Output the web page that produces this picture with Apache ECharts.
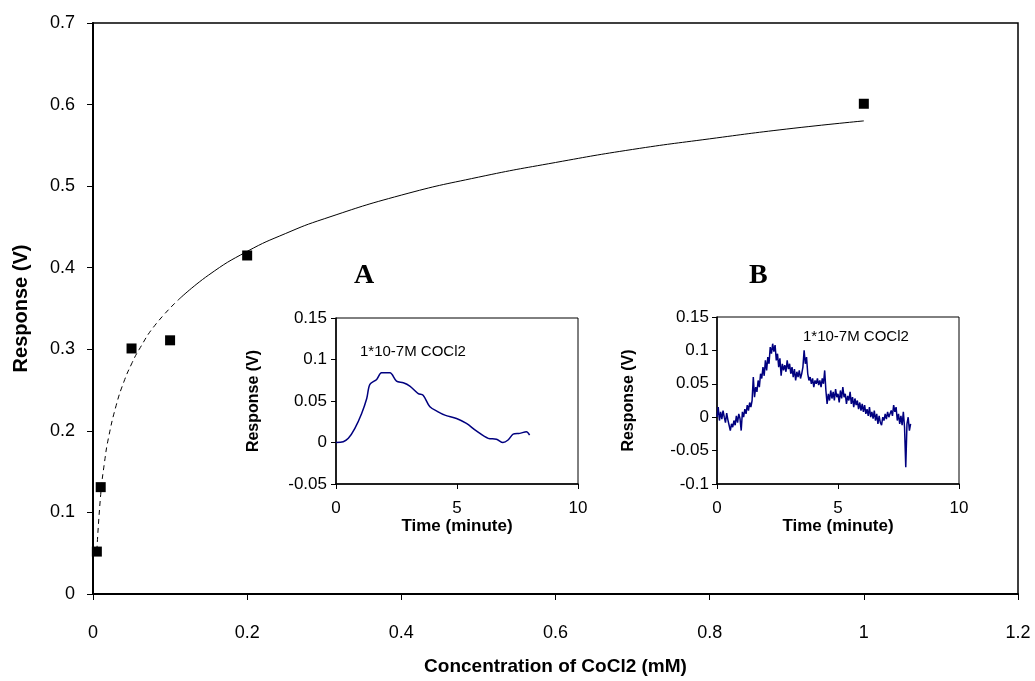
<!DOCTYPE html>
<html>
<head>
<meta charset="utf-8">
<script src="https://cdn.jsdelivr.net/npm/echarts@6/dist/echarts.min.js"></script>
<style>
  html, body { margin: 0; padding: 0; background: #fff; }
  #chart { width: 1035px; height: 681px; }
</style>
</head>
<body>
<div id="chart"></div>
<script>
// measured points, main plot
var concX = [0.005, 0.01, 0.05, 0.1, 0.2, 1.0]
var respY = [0.052, 0.131, 0.301, 0.311, 0.415, 0.601]

// fitted curve (dashed part, then solid part)
var fitDashX = [0.005, 0.01, 0.015, 0.02, 0.03, 0.04, 0.05, 0.06, 0.08, 0.11]
var fitDashY = [0.053, 0.122, 0.162, 0.191, 0.231, 0.260, 0.282, 0.300, 0.329, 0.360]
var fitSolidX = [0.11, 0.15, 0.2, 0.25, 0.3, 0.4, 0.5, 0.6, 0.7, 0.8, 0.9, 1.0]
var fitSolidY = [0.360, 0.391, 0.420, 0.442, 0.460, 0.489, 0.511, 0.529, 0.545, 0.558, 0.570, 0.580]

// inset A trace
var aTime = [0, 0.3, 0.51, 0.78, 1.06, 1.27, 1.4, 1.68, 1.88, 2.23, 2.5, 2.78, 3.05, 3.4, 3.6, 3.88, 4.22, 4.5, 4.98, 5.39, 5.8, 6.29, 6.63, 6.9, 7.11, 7.32, 7.59, 7.87, 8.0]
var aResp = [0, 0.001, 0.005, 0.017, 0.035, 0.053, 0.07, 0.076, 0.084, 0.084, 0.074, 0.072, 0.068, 0.059, 0.057, 0.043, 0.037, 0.033, 0.029, 0.023, 0.014, 0.005, 0.004, 0.0, 0.003, 0.01, 0.011, 0.013, 0.009]

// inset B trace, sampled every 0.05 min
var bDt = 0.05
var bResp = [
  0.000, 0.015, -0.005, 0.008, -0.003, 0.010, 0.000, -0.008, 0.006, -0.004,
  -0.012, -0.020, -0.010, -0.015, -0.005, -0.012, 0.002, -0.008, 0.005, -0.002,
  -0.020, 0.008, 0.000, 0.012, 0.005, 0.018, 0.010, 0.022, 0.015, 0.025,
  0.060, 0.030, 0.045, 0.038, 0.055, 0.045, 0.065, 0.058, 0.075, 0.062,
  0.085, 0.070, 0.090, 0.080, 0.105, 0.095, 0.110, 0.098, 0.108, 0.085,
  0.095, 0.075, 0.088, 0.062, 0.080, 0.070, 0.078, 0.068, 0.085, 0.072,
  0.080, 0.065, 0.075, 0.060, 0.072, 0.055, 0.068, 0.060, 0.070, 0.058,
  0.065, 0.075, 0.100, 0.080, 0.090, 0.065, 0.055, 0.060, 0.050, 0.058,
  0.045, 0.055, 0.050, 0.058, 0.048, 0.055, 0.045, 0.058, 0.050, 0.070,
  0.040, 0.020, 0.035, 0.025, 0.040, 0.028, 0.038, 0.025, 0.042, 0.030,
  0.035, 0.022, 0.040, 0.028, 0.045, 0.030, 0.035, 0.020, 0.032, 0.025,
  0.038, 0.020, 0.030, 0.015, 0.028, 0.018, 0.025, 0.012, 0.022, 0.010,
  0.020, 0.008, 0.018, 0.005, 0.012, 0.002, 0.015, 0.000, 0.008, -0.002,
  0.010, -0.005, 0.005, -0.010, 0.002, -0.008, -0.012, 0.000, -0.005, 0.005,
  -0.003, 0.008, 0.000, 0.005, 0.010, 0.002, 0.018, 0.008, 0.015, -0.005,
  0.005, -0.010, 0.002, -0.012, 0.008, -0.015, -0.075, -0.010, 0.000, -0.020,
  -0.010
]

var annText = '1*10-7M COCl2'

function pairs(xs, ys) {
  return xs.map(function (x, i) { return [x, ys[i]] })
}

var chart = echarts.init(document.getElementById('chart'))

var FONT = '"Liberation Sans", Arial, sans-serif'

function valAxis(idx, min, max, interval, labelSize, margin, name, nameSize, gap, lineW, tickLen) {
  return {
    type: 'value',
    gridIndex: idx,
    min: min,
    max: max,
    interval: interval,
    splitLine: { show: false },
    axisLine: { show: true, onZero: false, lineStyle: { color: '#000', width: lineW } },
    axisTick: { show: true, inside: false, length: tickLen, lineStyle: { color: '#000', width: 1 } },
    axisLabel: { color: '#000', fontSize: labelSize, fontFamily: FONT, margin: margin },
    name: name,
    nameLocation: 'middle',
    nameGap: gap,
    nameTextStyle: { color: '#000', fontSize: nameSize, fontWeight: 'bold', fontFamily: FONT }
  }
}

chart.setOption({
  backgroundColor: '#fff',
  animation: false,
  grid: [
    { left: 93, top: 23, width: 925, height: 574, show: true, borderColor: '#000', borderWidth: 1.5, backgroundColor: 'transparent' },
    { left: 336, top: 318, width: 242, height: 166, show: true, borderColor: '#000', borderWidth: 1, backgroundColor: '#fff' },
    { left: 717, top: 317, width: 242, height: 167, show: true, borderColor: '#000', borderWidth: 1, backgroundColor: '#fff' }
  ],
  xAxis: [
    valAxis(0, 0, 1.2, 0.2, 18, 30, 'Concentration of CoCl2 (mM)', 19, 63, 2, 6),
    valAxis(1, 0, 10, 5, 17, 16, 'Time (minute)', 17, 34, 1.5, 5),
    valAxis(2, 0, 10, 5, 17, 16, 'Time (minute)', 17, 34, 1.5, 5)
  ],
  yAxis: [
    valAxis(0, 0, 0.7, 0.1, 18, 18, 'Response (V)', 20, 62, 2, 6),
    valAxis(1, -0.05, 0.15, 0.05, 17, 9, 'Response (V)', 16, 74, 1.5, 5),
    valAxis(2, -0.1, 0.15, 0.05, 17, 8, 'Response (V)', 16, 80, 1.5, 5)
  ],
  series: [
    {
      type: 'line',
      xAxisIndex: 0, yAxisIndex: 0,
      data: pairs(fitDashX, fitDashY),
      smooth: true,
      showSymbol: false,
      lineStyle: { color: '#000', width: 1, type: [5, 4] }
    },
    {
      type: 'line',
      xAxisIndex: 0, yAxisIndex: 0,
      data: pairs(fitSolidX, fitSolidY),
      smooth: true,
      showSymbol: false,
      lineStyle: { color: '#000', width: 1 }
    },
    {
      type: 'scatter',
      xAxisIndex: 0, yAxisIndex: 0,
      data: pairs(concX, respY),
      symbol: 'rect',
      symbolSize: 10,
      itemStyle: { color: '#000', opacity: 1 },
      z: 5
    },
    {
      type: 'line',
      xAxisIndex: 1, yAxisIndex: 1,
      data: pairs(aTime, aResp),
      smooth: 0.3,
      showSymbol: false,
      lineStyle: { color: '#00007f', width: 1.5 }
    },
    {
      type: 'line',
      xAxisIndex: 2, yAxisIndex: 2,
      data: bResp.map(function (v, i) { return [i * bDt, v] }),
      showSymbol: false,
      lineStyle: { color: '#00007f', width: 1.5 }
    }
  ],
  graphic: [
    { type: 'text', left: 354, top: 262, style: { text: 'A', fill: '#000', font: 'bold 28px "Liberation Serif", "Times New Roman", serif' } },
    { type: 'text', left: 749, top: 262, style: { text: 'B', fill: '#000', font: 'bold 28px "Liberation Serif", "Times New Roman", serif' } },
    { type: 'text', left: 360, top: 344, style: { text: annText, fill: '#000', font: '15px ' + FONT } },
    { type: 'text', left: 803, top: 329, style: { text: annText, fill: '#000', font: '15px ' + FONT } }
  ]
})
</script>
</body>
</html>
